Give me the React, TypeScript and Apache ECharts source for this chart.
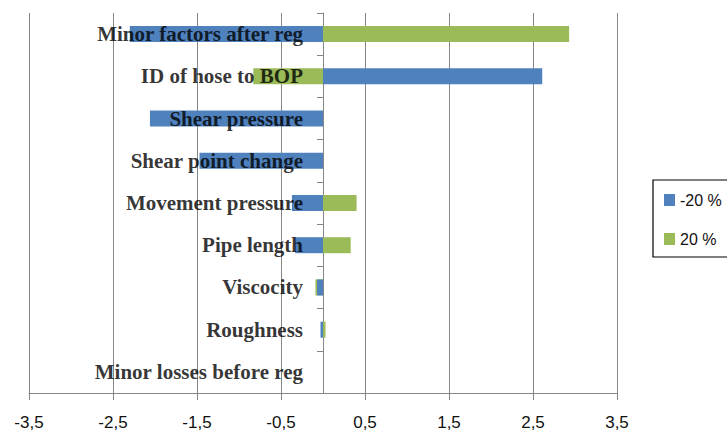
import React, { useEffect, useRef } from "react";
import * as echarts from "echarts";

const categories = [
  "Minor factors after reg",
  "ID of hose to BOP",
  "Shear pressure",
  "Shear point change",
  "Movement pressure",
  "Pipe length",
  "Viscocity",
  "Roughness",
  "Minor losses before reg",
];
const minus20 = [-2.3, 2.61, -2.06, -1.47, -0.37, -0.33, -0.07, -0.03, 0];
const plus20 = [2.93, -0.83, 0, 0, 0.4, 0.33, -0.09, 0.03, 0];
const seriesNames = ["-20 %", "20 %"];

export default function App() {
  const ref = useRef<HTMLDivElement>(null);
  useEffect(() => {
    if (!ref.current) return;
    const chart = echarts.init(ref.current, null, { renderer: "svg" });
    chart.setOption({
      animation: false,
      backgroundColor: "#ffffff",
      grid: {
        left: 29,
        right: 110,
        top: 13,
        bottom: 39,
        containLabel: false,
        outerBoundsMode: "none",
      },
      legend: {
        data: seriesNames,
        orient: "vertical",
        left: 653,
        top: 180,
        padding: [12, 50, 10, 11],
        itemGap: 23,
        itemWidth: 11,
        itemHeight: 12,
        icon: "rect",
        borderColor: "#000",
        borderWidth: 1.2,
        textStyle: { fontFamily: "Liberation Sans", fontSize: 16, color: "#111" },
      },
      xAxis: {
        type: "value",
        min: -3.5,
        max: 3.5,
        interval: 1,
        axisLine: { show: true, lineStyle: { color: "#868686", width: 1 } },
        axisTick: { show: true, length: 7, lineStyle: { color: "#868686" } },
        splitLine: { show: true, lineStyle: { color: "#868686", width: 1 } },
        axisLabel: {
          margin: 21,
          fontFamily: "Liberation Sans",
          fontSize: 17,
          color: "#111",
          formatter: (v: number) => String(v).replace(".", ","),
        },
      },
      yAxis: {
        type: "category",
        data: categories,
        inverse: true,
        axisLine: { show: true, onZero: true, lineStyle: { color: "#868686", width: 1 } },
        axisTick: { show: true, length: 6, lineStyle: { color: "#868686" } },
        splitLine: { show: false },
        axisLabel: { show: false },
      },
      series: [
        {
          name: seriesNames[1],
          type: "bar",
          data: plus20,
          barWidth: 16,
          barGap: "-100%",
          itemStyle: { color: "#9BBB59" },
        },
        {
          name: seriesNames[0],
          type: "bar",
          data: minus20,
          barWidth: 16,
          barGap: "-100%",
          itemStyle: { color: "#4F81BD" },
        },
        {
          name: "labels",
          type: "scatter",
          z: 10,
          symbolSize: 0,
          silent: true,
          data: categories.map((c) => [0, c]),
          label: {
            show: true,
            position: "left",
            distance: 20,
            formatter: (p: any) => p.value[1],
            fontFamily: "Liberation Serif",
            fontWeight: "bold",
            fontSize: 21,
            color: "#000",
          },
        },
      ],
    });
    return () => chart.dispose();
  }, []);
  return (
    <div
      ref={ref}
      style={{ position: "fixed", left: 0, top: 0, width: 727, height: 432, background: "#fff" }}
    />
  );
}
